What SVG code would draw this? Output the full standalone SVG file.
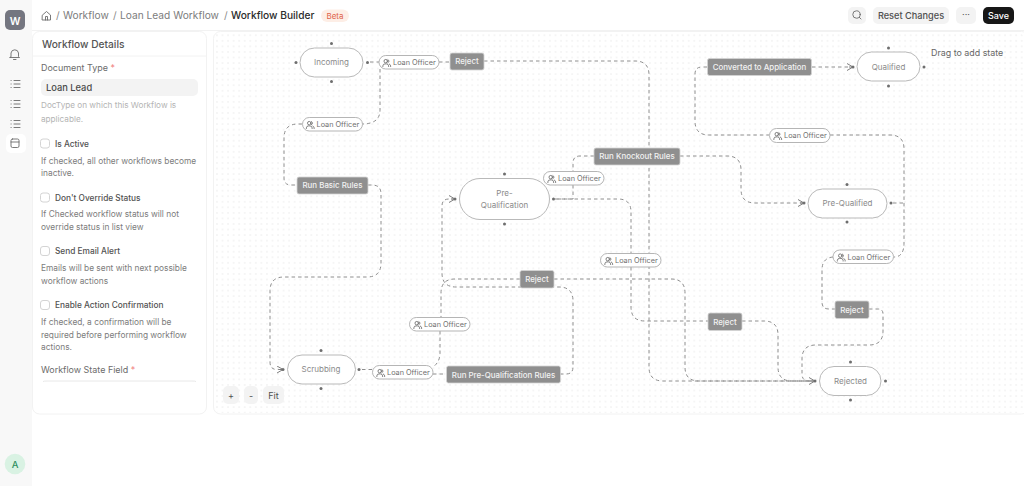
<svg xmlns="http://www.w3.org/2000/svg" xmlns:xlink="http://www.w3.org/1999/xlink" width="1024" height="486" viewBox="0 0 1024 486">
<style>
text{font-family:Inter,"Liberation Sans",sans-serif}
.state{fill:#fff;stroke:#b9b9b9;stroke-width:1}
.st{font-size:8px;fill:#8a8a8a;text-anchor:middle}
.h{fill:#6e6e6e}
.act{fill:#8f8f8f;stroke:#d4d4d4;stroke-width:.8}
.at{font-size:7.9px;fill:#f2f2f2;text-anchor:middle;font-weight:500}
.pill{fill:#fff;stroke:#b5b5b5;stroke-width:1}
.pt{font-size:7.3px;fill:#6f6f6f}
.c{fill:none;stroke:#8e8e8e;stroke-width:1;stroke-dasharray:3.5 3}
.lab{font-size:8.95px;fill:#6b6b6b}
.chk{font-size:8.3px;fill:#525252;font-weight:500}
.desc{font-size:8.35px;fill:#7c7c7c}
.cb{fill:#fff;stroke:#d4d4d4;stroke-width:1}
.btn{fill:#f3f3f3}
.ic{fill:none;stroke:#6b6b6b;stroke-width:.9;stroke-linecap:round;stroke-linejoin:round}
</style>
<defs>
<pattern id="dots" x="214.200" y="32.500" width="5.550" height="5.550" patternUnits="userSpaceOnUse"><circle cx="2.775" cy="2.775" r=".6" fill="#e2e2e2"/></pattern>
<marker id="arr" markerUnits="userSpaceOnUse" markerWidth="10" markerHeight="10" refX="7" refY="4" orient="auto"><path d="M1,.5L7,4L1,7.5M3,4H7" fill="none" stroke="#808080" stroke-width="1"/></marker>
<g id="users"><g class="ic" transform="scale(.72)" style="stroke-width:1.200"><circle cx="4.500" cy="3" r="2.400"/><path d="M.5,10.500V9.500A3,3 0 0 1 3.500,6.800H5.500A3,3 0 0 1 8.500,9.500V10.500M7.500,.8A2.400,2.400 0 0 1 7.500,5.200M9.500,7A3,3 0 0 1 11.300,9.500V10.500"/></g></g>
<g id="list" class="ic"><path d="M3,-3.500H9M3,0H9M3,3.500H9M0,-3.500H.2M0,0H.2M0,3.500H.2"/></g>
</defs>
<rect width="1024" height="486" fill="#fff"/>
<g id="sidebar">
<rect width="32" height="486" fill="#f8f8f8"/>
<rect x="5" y="10" width="20" height="20" rx="5" fill="#747680"/>
<text x="15" y="24.500" font-size="10.500" font-weight="600" fill="#fff" text-anchor="middle">W</text>
<path class="ic" d="M11,56.500V53A3.800,3.800 0 0 1 18.500,53V56.500L19.500,57.500H10ZM13.500,59.500H16"/>
<use xlink:href="#list" href="#list" x="11" y="84"/>
<use xlink:href="#list" href="#list" x="11" y="104"/>
<use xlink:href="#list" href="#list" x="11" y="124"/>
<rect x="6" y="134" width="20" height="19" rx="5" fill="#fff"/>
<rect class="ic" x="11" y="139" width="8" height="8.500" rx="1.500"/><path class="ic" d="M11,142H19"/>
<circle cx="15" cy="464" r="10.300" fill="#d9f2e3"/>
<text x="15" y="467.500" font-size="9.500" font-weight="500" fill="#2f8f5f" text-anchor="middle">A</text>
</g>
<g id="topbar">
<path class="ic" d="M42.500,15L46.500,11.500L50.500,15V20H42.500ZM45.500,20V16.500H47.500V20"/>
<text x="56" y="19.200" font-size="10.200" fill="#8a8a8a">/</text>
<text x="63" y="19.200" font-size="10.200" fill="#7c7c7c">Workflow</text>
<text x="113" y="19.200" font-size="10.200" fill="#8a8a8a">/</text>
<text x="120" y="19.200" font-size="10.200" fill="#7c7c7c">Loan Lead Workflow</text>
<text x="224" y="19.200" font-size="10.200" fill="#8a8a8a">/</text>
<text x="231" y="19.200" font-size="10.200" fill="#2b2b2b" font-weight="500">Workflow Builder</text>
<rect x="321" y="9.500" width="28" height="12.500" rx="6.250" fill="#fdeee6"/>
<text x="335" y="18.700" font-size="8" fill="#e0634a" text-anchor="middle">Beta</text>
<rect class="btn" x="848" y="7" width="18" height="17" rx="5"/>
<circle class="ic" cx="856.500" cy="14.500" r="3.700"/><path class="ic" d="M859.300,17.300L861,19"/>
<rect class="btn" x="873" y="7" width="76" height="17" rx="5"/>
<text x="911" y="18.800" font-size="9.200" fill="#4f4f4f" text-anchor="middle" font-weight="500">Reset Changes</text>
<rect class="btn" x="956" y="7" width="20" height="17" rx="5"/>
<text x="966" y="18" font-size="9" fill="#4f4f4f" text-anchor="middle">···</text>
<rect x="983" y="7" width="31" height="17" rx="5" fill="#171717"/>
<text x="998.500" y="18.800" font-size="9" fill="#fff" text-anchor="middle" font-weight="500">Save</text>
<path d="M32,30.500H1024" stroke="#f2f2f2"/>
</g>
<g id="details-panel">
<rect x="32.500" y="31.500" width="174" height="382.500" rx="7" fill="#fff" stroke="#f2f2f2"/>
<path d="M33,56H206" stroke="#f2f2f2"/>
<text x="42" y="47.500" font-size="10.200" fill="#555" font-weight="500">Workflow Details</text>
<text class="lab" x="41" y="70.500">Document Type <tspan fill="#f08080">*</tspan></text>
<rect class="btn" x="41" y="79" width="157" height="17" rx="5"/>
<text x="46" y="90.800" font-size="9.300" fill="#4a4a4a" font-weight="500">Loan Lead</text>
<text x="41" y="108.300" font-size="8.200" fill="#b4b4b4">DocType on which this Workflow is</text>
<text x="41" y="122" font-size="8.200" fill="#b4b4b4">applicable.</text>
<rect class="cb" x="40.500" y="139" width="9" height="9" rx="2.500"/>
<text class="chk" x="55" y="147">Is Active</text>
<text class="desc" x="41" y="163.500">If checked, all other workflows become</text>
<text class="desc" x="41" y="176">inactive.</text>
<rect class="cb" x="40.500" y="193" width="9" height="9" rx="2.500"/>
<text class="chk" x="55" y="200.500">Don't Override Status</text>
<text class="desc" x="41" y="217.200">If Checked workflow status will not</text>
<text class="desc" x="41" y="229.800">override status in list view</text>
<rect class="cb" x="40.500" y="246.500" width="9" height="9" rx="2.500"/>
<text class="chk" x="55" y="254">Send Email Alert</text>
<text class="desc" x="41" y="271">Emails will be sent with next possible</text>
<text class="desc" x="41" y="283.600">workflow actions</text>
<rect class="cb" x="40.500" y="300.500" width="9" height="9" rx="2.500"/>
<text class="chk" x="55" y="308">Enable Action Confirmation</text>
<text class="desc" x="41" y="325">If checked, a confirmation will be</text>
<text class="desc" x="41" y="337.500">required before performing workflow</text>
<text class="desc" x="41" y="350">actions.</text>
<text class="lab" x="41" y="372.800">Workflow State Field <tspan fill="#f08080">*</tspan></text>
<path d="M43,381.500Q44,381 47,381H192Q195,381 196,381.500" fill="none" stroke="#e8e8e8"/>
</g>
<g id="canvas">
<rect x="213.500" y="31.500" width="815" height="382.500" rx="7" fill="#fff" stroke="#f2f2f2"/>
<rect x="214" y="32" width="810" height="381" rx="7" fill="url(#dots)"/>
<text x="931" y="55.800" font-size="8.900" fill="#666">Drag to add state</text>
<rect class="btn" x="223" y="386" width="16" height="18" rx="5"/>
<text x="231" y="398.500" font-size="9" fill="#4f4f4f" text-anchor="middle">+</text>
<rect class="btn" x="244" y="386" width="14" height="18" rx="5"/>
<text x="251" y="398.500" font-size="9" fill="#4f4f4f" text-anchor="middle">-</text>
<rect class="btn" x="263" y="386" width="21" height="18" rx="5"/>
<text x="273.500" y="398.500" font-size="9" fill="#4f4f4f" text-anchor="middle">Fit</text>
</g>
<g id="connectors">
<path class="c" d="M380,62H369"/>
<path class="c" d="M439,62H450"/>
<path class="c" d="M380,69V110Q380,124 362,124"/>
<path class="c" d="M302,124H298Q284,124 284,138V178Q284,185 291,185H297"/>
<path class="c" d="M368,185H372Q381,185 381,194V263Q381,277 367,277H284Q270,277 270,291V362Q270,369.500 277,369.500H283" marker-end="url(#arr)"/>
<path class="c" d="M484,61H635Q649,61 649,75V367Q649,381 663,381H815" marker-end="url(#arr)"/>
<path class="c" d="M594,156H580Q573,156 573,163V171"/>
<path class="c" d="M573,185V199H555"/>
<path class="c" d="M555,199H618Q631,199 631,212V253"/>
<path class="c" d="M631,267V307Q631,321 645,321H708"/>
<path class="c" d="M742,321H764Q778,321 778,335V367Q778,381 792,381H815"/>
<path class="c" d="M680,156H727Q741,156 741,170V189Q741,203 755,203H804" marker-end="url(#arr)"/>
<path class="c" d="M812,67H853" marker-end="url(#arr)"/>
<path class="c" d="M707,67H702Q695,67 695,74V121Q695,135 709,135H769"/>
<path class="c" d="M830,135H890Q904,135 904,149V243Q904,257 894,257"/>
<path class="c" d="M893,203H904"/>
<path class="c" d="M833,257Q822,258 822,270V302Q822,309 829,309H835"/>
<path class="c" d="M869,309H878Q883,309 883,314V331Q883,345 869,345H816Q802,345 802,359V374Q802,381 809,381H815"/>
<path class="c" d="M520,279H455Q441,279 441,293V317"/>
<path class="c" d="M440,331V353Q440,362 433,367"/>
<path class="c" d="M433,374H446"/>
<path class="c" d="M372,369.500H361"/>
<path class="c" d="M560,374H566Q573,374 573,367V301Q573,287 559,287H456Q442,287 442,273V206Q442,199 449,199H455" marker-end="url(#arr)"/>
<path class="c" d="M554,279H671Q685,279 685,293V367Q685,381 699,381H815"/>
</g>
<g id="state-incoming"><rect class="state" x="300" y="48" width="63" height="29" rx="14.500"/><text class="st" x="331.500" y="65.300">Incoming</text><circle class="h" cx="331.500" cy="43.500" r="1.500"/><circle class="h" cx="296" cy="62.500" r="1.500"/><circle class="h" cx="367.500" cy="62.500" r="1.500"/><circle class="h" cx="331.500" cy="81.500" r="1.500"/></g>
<g id="state-prequalification"><rect class="state" x="459.500" y="178.500" width="90" height="41" rx="20.500"/><text class="st" x="504.500" y="196">Pre-</text><text class="st" x="504.500" y="208">Qualification</text><circle class="h" cx="504.500" cy="174" r="1.500"/><circle class="h" cx="455" cy="199" r="1.500"/><circle class="h" cx="553.500" cy="199" r="1.500"/><circle class="h" cx="504.500" cy="224" r="1.500"/></g>
<g id="state-scrubbing"><rect class="state" x="287.500" y="355" width="68" height="29" rx="14.500"/><text class="st" x="321" y="372.300">Scrubbing</text><circle class="h" cx="321" cy="350.500" r="1.500"/><circle class="h" cx="283" cy="369.500" r="1.500"/><circle class="h" cx="359" cy="369.500" r="1.500"/><circle class="h" cx="321" cy="388.500" r="1.500"/></g>
<g id="state-qualified"><rect class="state" x="857" y="52" width="63" height="29" rx="14.500"/><text class="st" x="888.500" y="69.800">Qualified</text><circle class="h" cx="888.500" cy="48" r="1.500"/><circle class="h" cx="853" cy="67" r="1.500"/><circle class="h" cx="924" cy="67" r="1.500"/><circle class="h" cx="888.500" cy="86" r="1.500"/></g>
<g id="state-prequalified"><rect class="state" x="808" y="189" width="79" height="29" rx="14.500"/><text class="st" x="847.500" y="206.300">Pre-Qualified</text><circle class="h" cx="847" cy="184.500" r="1.500"/><circle class="h" cx="804" cy="203" r="1.500"/><circle class="h" cx="891" cy="203" r="1.500"/><circle class="h" cx="847" cy="222" r="1.500"/></g>
<g id="state-rejected"><rect class="state" x="819.500" y="366.500" width="61.500" height="29" rx="14.500"/><text class="st" x="850.500" y="384">Rejected</text><circle class="h" cx="850.500" cy="362" r="1.500"/><circle class="h" cx="815" cy="381" r="1.500"/><circle class="h" cx="885.500" cy="381" r="1.500"/><circle class="h" cx="850.500" cy="400" r="1.500"/></g>
<g id="action-reject-1"><rect class="act" x="450" y="53" width="34" height="17" rx="2"/><text class="at" x="467" y="64.300">Reject</text></g>
<g id="action-run-basic-rules"><rect class="act" x="297" y="177" width="71" height="17" rx="2"/><text class="at" x="332.500" y="188.300">Run Basic Rules</text></g>
<g id="action-run-knockout-rules"><rect class="act" x="594" y="148" width="86" height="17" rx="2"/><text class="at" x="637" y="159.300">Run Knockout Rules</text></g>
<g id="action-converted"><rect class="act" x="707.500" y="58.500" width="104" height="17" rx="2"/><text class="at" x="759.500" y="70">Converted to Application</text></g>
<g id="action-reject-2"><rect class="act" x="520" y="270.500" width="34" height="17.500" rx="2"/><text class="at" x="537" y="282">Reject</text></g>
<g id="action-run-prequal"><rect class="act" x="446.500" y="366" width="114" height="17" rx="2"/><text class="at" x="503.500" y="377.500">Run Pre-Qualification Rules</text></g>
<g id="action-reject-3"><rect class="act" x="708" y="313" width="34" height="17.500" rx="2"/><text class="at" x="725" y="324.500">Reject</text></g>
<g id="action-reject-4"><rect class="act" x="835" y="301" width="34" height="17.500" rx="2"/><text class="at" x="852" y="312.500">Reject</text></g>
<g id="pill-1"><rect class="pill" x="379" y="55.500" width="60" height="13.500" rx="6.750"/><use xlink:href="#users" href="#users" x="382.500" y="59"/><text class="pt" x="393" y="65">Loan Officer</text></g>
<g id="pill-2"><rect class="pill" x="302.500" y="117.500" width="60" height="13.500" rx="6.750"/><use xlink:href="#users" href="#users" x="306" y="121"/><text class="pt" x="316.500" y="127">Loan Officer</text></g>
<g id="pill-3"><rect class="pill" x="543.500" y="171.500" width="60.500" height="13.500" rx="6.750"/><use xlink:href="#users" href="#users" x="547.500" y="175"/><text class="pt" x="558" y="181">Loan Officer</text></g>
<g id="pill-4"><rect class="pill" x="769.500" y="128.500" width="60.500" height="14" rx="7"/><use xlink:href="#users" href="#users" x="773.500" y="132"/><text class="pt" x="784" y="138.200">Loan Officer</text></g>
<g id="pill-5"><rect class="pill" x="409.500" y="317.500" width="60.500" height="13.500" rx="6.750"/><use xlink:href="#users" href="#users" x="413.500" y="321"/><text class="pt" x="424" y="327">Loan Officer</text></g>
<g id="pill-6"><rect class="pill" x="372.500" y="365.500" width="60.500" height="13.500" rx="6.750"/><use xlink:href="#users" href="#users" x="376.500" y="369"/><text class="pt" x="387" y="375">Loan Officer</text></g>
<g id="pill-7"><rect class="pill" x="600.500" y="253.500" width="60.500" height="13.500" rx="6.750"/><use xlink:href="#users" href="#users" x="604.500" y="257"/><text class="pt" x="615" y="263">Loan Officer</text></g>
<g id="pill-8"><rect class="pill" x="833" y="250" width="60.500" height="13.500" rx="6.750"/><use xlink:href="#users" href="#users" x="837" y="253.500"/><text class="pt" x="847.500" y="259.500">Loan Officer</text></g>
</svg>
